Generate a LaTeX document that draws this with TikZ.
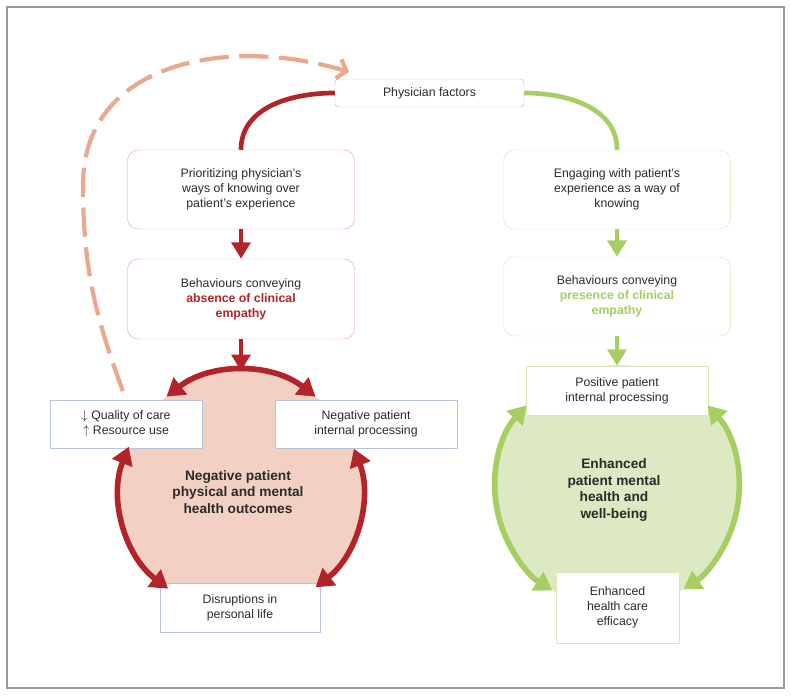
\documentclass[tikz,border=0pt]{standalone}
\usepackage{fontspec}
\setmainfont{Liberation Sans}
\usepackage{xcolor}
\usetikzlibrary{arrows.meta,positioning}
\definecolor{ink}{HTML}{2B2B2B}
\definecolor{framegray}{HTML}{9A9A9A}
\definecolor{redline}{HTML}{B3242A}
\definecolor{rededge}{HTML}{E8A2A2}
\definecolor{salmon}{HTML}{E8A98F}
\definecolor{pinkfill}{HTML}{F2D0C3}
\definecolor{greenline}{HTML}{A6CE63}
\definecolor{greenedge}{HTML}{D8E8B4}
\definecolor{greenfill}{HTML}{DCE9C2}
\definecolor{blueedge}{HTML}{9DC3E4}
\definecolor{boxedge}{HTML}{B7C6DD}
\newcommand{\negem}[1]{\textbf{\textcolor{redline}{#1}}}
\newcommand{\posem}[1]{\textbf{\textcolor{greenline}{#1}}}
\tikzset{
  every node/.style={font=\fontsize{10.5}{12.8}\selectfont,text=ink},
  comp/.style={rounded corners=9pt,fill=white,align=center,inner sep=3pt,minimum width=6.81cm,minimum height=2.37cm},
  negstep/.style={comp,draw=rededge},
  posstep/.style={comp,draw=greenedge},
  physbox/.style={draw=blueedge,rounded corners=3pt,fill=white,minimum width=5.67cm,minimum height=0.84cm},
  outbox/.style={draw=boxedge,fill=white,align=center,inner sep=3pt,minimum height=1.44cm},
  posbox/.style={outbox,draw=greenedge},
  hub/.style={circle,inner sep=0pt,outer sep=0pt},
  headline/.style={font=\fontsize{11.7}{14.2}\selectfont\bfseries,align=center},
  negline/.style={line width=4pt,draw=redline},
  posline/.style={line width=4pt,draw=greenline},
  negarr/.style={negline,-{Triangle[length=14pt,width=16pt]}},
  posarr/.style={posline,-{Triangle[length=14pt,width=16pt]}},
  negloop/.style={negline,line width=4.8pt,{Triangle[length=15pt,width=18pt]}-{Triangle[length=15pt,width=18pt]}},
  posloop/.style={posline,line width=4.8pt,{Triangle[length=15pt,width=18pt]}-{Triangle[length=15pt,width=18pt]}},
  feedback/.style={-{Straight Barb[length=7pt,width=17pt]},line width=3.6pt,draw=salmon,dash pattern=on 25pt off 9pt}
}

\begin{document}
\begin{tikzpicture}[x=0.03cm,y=0.03cm]
  \useasboundingbox (0,0) rectangle (791,-695);
  \draw[framegray,line width=0.9pt] (7,-7) rectangle (784,-688);

  % outcome circles
  \node[hub,fill=pinkfill,minimum size=7.26cm] (negc) at (241,-492) {};
  \node[hub,fill=greenfill,minimum size=7.32cm] (posc) at (617,-487) {};

  \node[physbox] (phys) at (429.5,-93) {Physician factors};

  \node[negstep] (prior) at (241,-189.5) {Prioritizing physician's\\ways of knowing over\\patient's experience};
  \node[negstep,minimum height=2.4cm] (behneg) at (241,-299) {Behaviours conveying\\\negem{absence of clinical}\\\negem{empathy}};
  \node[posstep] (engage) at (617,-189.5) {Engaging with patient's\\experience as a way of\\knowing};
  \node[posstep] (behpos) at (617,-296.5) {Behaviours conveying\\\posem{presence of clinical}\\\posem{empathy}};

  \node[outbox,minimum width=4.56cm] (quality) at (126,-424) {$\downarrow$ Quality of care\\$\uparrow$ Resource use};
  \node[outbox,minimum width=5.46cm] (negint) at (366,-424) {Negative patient\\internal processing};
  \node[outbox,minimum width=4.8cm,minimum height=1.47cm] (disrupt) at (240,-607.5) {Disruptions in\\personal life};
  \node[headline] (negout) at (238,-492) {Negative patient\\physical and mental\\health outcomes};

  \node[posbox,minimum width=5.46cm,minimum height=1.47cm] (posint) at (617,-390.5) {Positive patient\\internal processing};
  \node[posbox,minimum width=3.69cm,minimum height=2.13cm] (efficacy) at (617.5,-607.5) {Enhanced\\health care\\efficacy};
  \node[headline] (posout) at (614,-490) {Enhanced\\patient mental\\health and\\well-being};

  \coordinate (fbend) at (349,-72);

  \draw[negline] (phys.west) to[out=180,in=90] (prior.north);
  \draw[posline] (phys.east) to[out=0,in=90] (engage.north);
  \draw[negarr] (prior.south) -- (behneg.north);
  \draw[posarr] (behpos.north |- engage.south) -- (behpos.north);
  \draw[negarr] (behneg.south) -- (negc.north);
  \draw[posarr] (behpos.south) -- (posint.north);

  \draw[negloop] (negc.128) arc[start angle=128,end angle=52,radius=121];
  \draw[negloop] (negc.158) arc[start angle=158,end angle=233,radius=121];
  \draw[negloop] (negc.21) arc[start angle=21,end angle=-52,radius=121];
  \draw[posloop] (posc.138) arc[start angle=138,end angle=238,radius=122];
  \draw[posloop] (posc.42) arc[start angle=42,end angle=-57,radius=122];

  \draw[feedback,shorten <=8pt] (quality.north) to[out=110,in=-90] (83,-185) to[out=90,in=163,looseness=1.1] (fbend);
\end{tikzpicture}
\end{document}
